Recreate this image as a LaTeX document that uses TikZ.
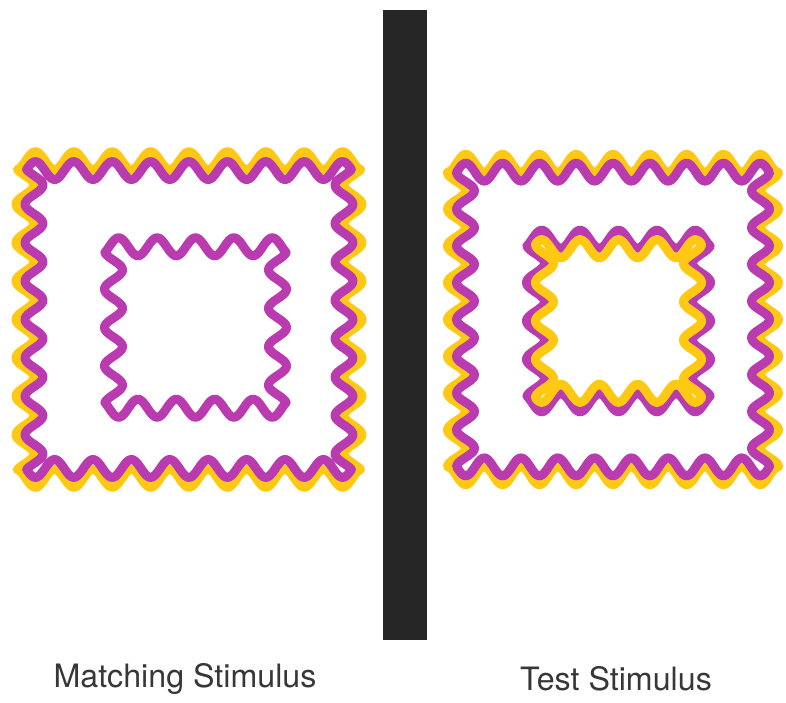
\documentclass[tikz,border=0pt]{standalone}
\usepackage{fontspec}
\setmainfont{TeX Gyre Heros}
\usepackage{xcolor}
\usetikzlibrary{calc}

\definecolor{waveyellow}{RGB}{255,200,18}
\definecolor{wavepurple}{RGB}{186,58,176}
\definecolor{bargray}{RGB}{38,38,38}
\definecolor{labelgray}{RGB}{55,55,55}

% wave amplitude and samples per side (px)
\newcommand{\wamp}{9}
\newcommand{\wsamp}{160}

% wavy square: [period] centre x, centre y, offset of the side waves, half extent of the side waves, style
\newcommand{\wavysq}[6][38.4]{%
  \pgfmathsetmacro{\wk}{360/#1}%
  \pgfmathsetmacro{\wux}{#4+\wamp*cos(\wk*#5)}%
  \pgfmathsetmacro{\whT}{#5-\wamp*cos(\wk*\wux)}%
  \draw[#6]
    plot[variable=\t, domain=-\wux:\wux, samples=\wsamp] ({#2+\t},{#3-\whT-\wamp*cos(\wk*\t)})
    -- plot[variable=\t, domain=-#5:#5, samples=\wsamp] ({#2+#4+\wamp*cos(\wk*\t)},{#3+\t})
    -- plot[variable=\t, domain=-\wux:\wux, samples=\wsamp] ({#2-\t},{#3+\whT+\wamp*cos(\wk*\t)})
    -- plot[variable=\t, domain=-#5:#5, samples=\wsamp] ({#2-#4-\wamp*cos(\wk*\t)},{#3-\t})
    -- cycle;
}

\begin{document}
\begin{tikzpicture}[
  x=1pt, y=-1pt,
  line cap=round,
  line join=round,
  yellowwave/.style={draw=waveyellow, line width=9pt},
  purplewave/.style={draw=wavepurple, line width=9pt},
  stimlabel/.style={font=\fontsize{32.2}{38}\selectfont, text=labelgray}
]
  \useasboundingbox (0,0) rectangle (786,702);

  % Matching stimulus: outer pair and inner purple square
  \wavysq{189}{319.5}{164}{150}{yellowwave}
  \wavysq{189}{319.5}{155}{150}{purplewave}
  \wavysq{195.5}{327.5}{82}{75}{purplewave}

  % Dividing bar
  \coordinate (bartop) at (383,10);
  \coordinate (barbot) at (427,640);
  \fill[bargray] (bartop) rectangle (barbot);

  % Test stimulus: outer pair, inner purple with yellow inside
  \wavysq[36.8]{613}{319.5}{156.5}{147.2}{yellowwave}
  \wavysq[36.8]{613}{319.5}{147.5}{147.2}{purplewave}
  \wavysq{618.5}{321}{83}{75}{purplewave}
  \wavysq{618.5}{321}{74}{77}{yellowwave}

  % Labels
  \node[stimlabel] (matchlbl) at (185,679) {Matching Stimulus};
  \node[stimlabel] (testlbl)  at (616,679) {Test Stimulus};
\end{tikzpicture}
\end{document}
